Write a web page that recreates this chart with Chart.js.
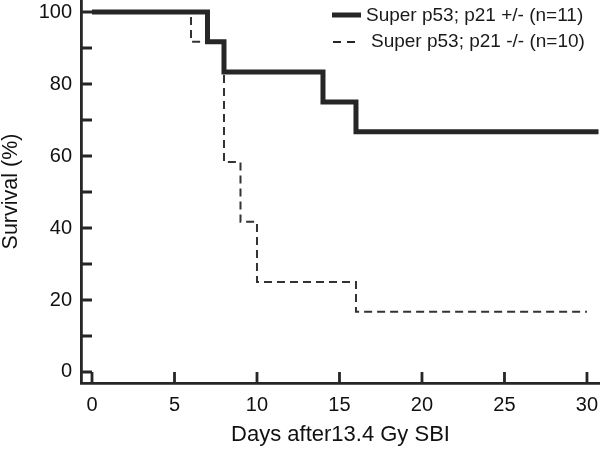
<!DOCTYPE html>
<html>
<head>
<meta charset="utf-8">
<script src="https://cdn.jsdelivr.net/npm/chart.js@4"></script>
<style>
  html, body { margin: 0; padding: 0; background: #fff; }
  #wrap { width: 600px; height: 450px; }
</style>
</head>
<body>
<div id="wrap"><canvas id="km"></canvas></div>
<script>
// Kaplan-Meier steps (days, survival %)
const hetDays = [0, 7, 8, 14, 16, 30.7];
const hetSurv = [100, 91.7, 83.3, 75, 66.7, 66.7];
const nullDays = [0, 6, 8, 9, 10, 16, 30];
const nullSurv = [100, 91.7, 58.3, 41.7, 25, 16.7, 16.7];

const xTicks = [0, 5, 10, 15, 20, 25, 30];
const yTicks = [0, 10, 20, 30, 40, 50, 60, 70, 80, 90, 100];

const labels = ["Super p53; p21 +/- (n=11)", "Super p53; p21 -/- (n=10)"];

const ink = "#262626";
const font = "'Liberation Sans', Arial, sans-serif";

const toPoints = (xs, ys) => xs.map((x, i) => ({ x: x, y: ys[i] }));

// inward tick marks, like the original figure
const innerTicks = {
  id: "innerTicks",
  afterDraw(chart) {
    const ctx = chart.ctx;
    const { x, y } = chart.scales;
    ctx.save();
    ctx.strokeStyle = ink;
    ctx.lineWidth = 2.8;
    ctx.beginPath();
    xTicks.forEach(v => {
      const px = x.getPixelForValue(v);
      ctx.moveTo(px, y.bottom);
      ctx.lineTo(px, y.bottom - 11);
    });
    yTicks.forEach(v => {
      const py = y.getPixelForValue(v);
      ctx.moveTo(x.left, py);
      ctx.lineTo(x.left + 11, py);
    });
    ctx.stroke();
    ctx.restore();
  }
};

// legend drawn in the top right corner
const cornerLegend = {
  id: "cornerLegend",
  afterDraw(chart) {
    const ctx = chart.ctx;
    ctx.save();
    ctx.fillStyle = "#1a1a1a";
    ctx.font = "19px " + font;
    ctx.textBaseline = "middle";
    ctx.textAlign = "left";

    ctx.strokeStyle = ink;
    ctx.lineWidth = 5;
    ctx.beginPath();
    ctx.moveTo(332, 15);
    ctx.lineTo(361, 15);
    ctx.stroke();
    ctx.fillText(labels[0], 366, 16);

    ctx.lineWidth = 2;
    ctx.setLineDash([8, 6]);
    ctx.beginPath();
    ctx.moveTo(333, 42);
    ctx.lineTo(356, 42);
    ctx.stroke();
    ctx.setLineDash([]);
    ctx.fillText(labels[1], 371, 42);
    ctx.restore();
  }
};

new Chart(document.getElementById("km"), {
  type: "line",
  data: {
    datasets: [
      {
        label: labels[0],
        data: toPoints(hetDays, hetSurv),
        stepped: true,
        borderColor: ink,
        borderWidth: 5,
        pointRadius: 0,
        fill: false
      },
      {
        label: labels[1],
        data: toPoints(nullDays, nullSurv),
        stepped: true,
        borderColor: "#333",
        borderWidth: 2,
        borderDash: [8, 5],
        pointRadius: 0,
        fill: false
      }
    ]
  },
  options: {
    responsive: true,
    maintainAspectRatio: false,
    animation: false,
    layout: { padding: 0 },
    plugins: {
      legend: { display: false },
      tooltip: { enabled: false }
    },
    scales: {
      x: {
        type: "linear",
        min: -0.667,
        max: 30.79,
        afterBuildTicks: s => { s.ticks = xTicks.map(v => ({ value: v })); },
        afterFit: s => {
          s.height = 67;
          s.paddingLeft = 0; s.paddingRight = 0;
        },
        grid: { display: false, drawTicks: false },
        border: { display: true, color: ink, width: 2.8 },
        ticks: { color: "#111", font: { family: font, size: 20 }, padding: 10, maxRotation: 0 },
        title: {
          display: true,
          text: "Days after13.4 Gy SBI",
          color: "#111",
          font: { family: font, size: 22, lineHeight: 1.2 },
          padding: { top: 2, bottom: 2 }
        }
      },
      y: {
        min: -3.06,
        max: 103.33,
        afterBuildTicks: s => { s.ticks = yTicks.map(v => ({ value: v })); },
        afterFit: s => {
          s.width = 81;
          s.paddingTop = 0; s.paddingBottom = 0;
        },
        grid: { display: false, drawTicks: false },
        border: { display: true, color: ink, width: 2.8 },
        ticks: {
          color: "#111",
          font: { family: font, size: 20 },
          padding: 9,
          callback: v => (v % 20 === 0 ? v : "")
        },
        title: {
          display: true,
          text: "Survival (%)",
          color: "#111",
          font: { family: font, size: 21.5, lineHeight: 1.05 },
          padding: 0
        }
      }
    }
  },
  plugins: [innerTicks, cornerLegend]
});
</script>
</body>
</html>
